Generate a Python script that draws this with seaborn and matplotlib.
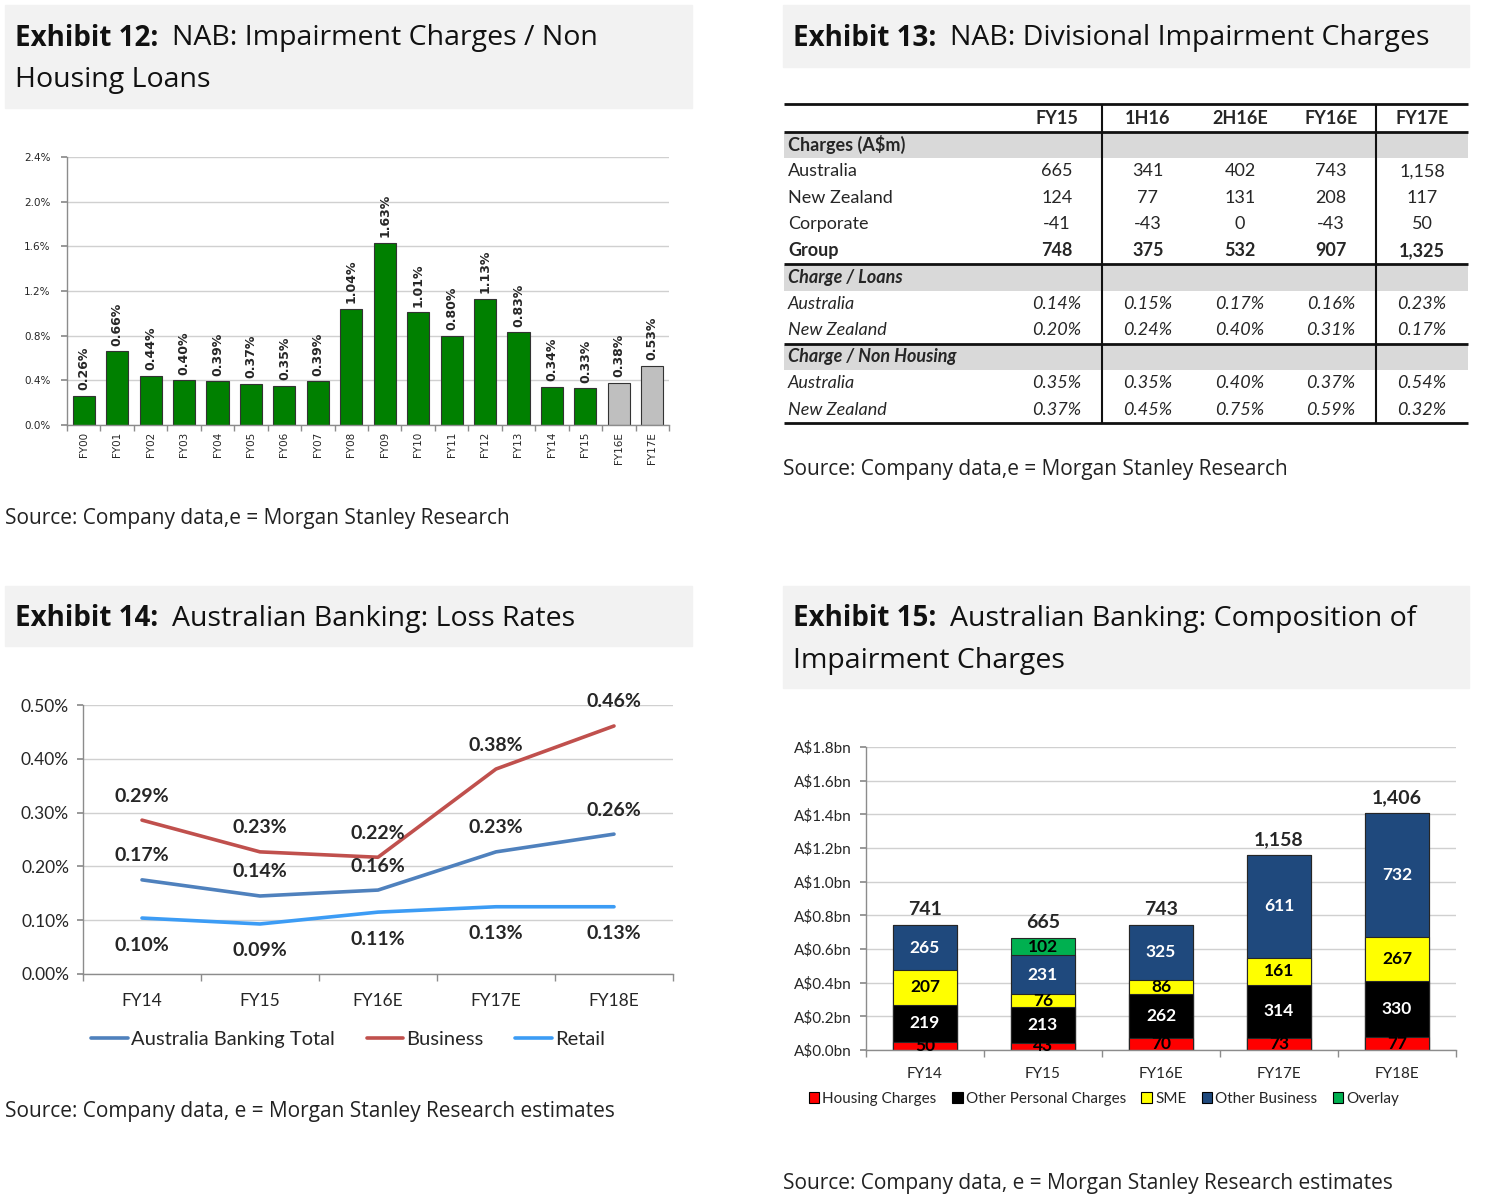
import numpy as np
import pandas as pd
import matplotlib
matplotlib.use("Agg")
import matplotlib.pyplot as plt
from matplotlib.patches import Rectangle, Patch
from matplotlib.lines import Line2D
from matplotlib.ticker import FuncFormatter
import seaborn as sns

# ---- Exhibit 12: NAB impairment charges / non housing loans (%)
nab_years = ["FY00", "FY01", "FY02", "FY03", "FY04", "FY05", "FY06", "FY07", "FY08",
             "FY09", "FY10", "FY11", "FY12", "FY13", "FY14", "FY15", "FY16E", "FY17E"]
nab_ratio = [0.26, 0.66, 0.44, 0.40, 0.39, 0.37, 0.35, 0.39, 1.04,
             1.63, 1.01, 0.80, 1.13, 0.83, 0.34, 0.33, 0.38, 0.53]
nab_estimate = [False] * 16 + [True, True]

# ---- Exhibit 13: divisional impairment charges
table_cols = ["FY15", "1H16", "2H16E", "FY16E", "FY17E"]
chg_australia = [665, 341, 402, 743, 1158]
chg_nz = [124, 77, 131, 208, 117]
chg_corporate = [-41, -43, 0, -43, 50]
chg_group = [748, 375, 532, 907, 1325]
loans_australia = [0.14, 0.15, 0.17, 0.16, 0.23]
loans_nz = [0.20, 0.24, 0.40, 0.31, 0.17]
nonhousing_australia = [0.35, 0.35, 0.40, 0.37, 0.54]
nonhousing_nz = [0.37, 0.45, 0.75, 0.59, 0.32]

# ---- Exhibit 14: Australian banking loss rates (%)
loss_years = ["FY14", "FY15", "FY16E", "FY17E", "FY18E"]
loss_total = [0.175, 0.145, 0.156, 0.227, 0.260]
loss_business = [0.286, 0.227, 0.217, 0.381, 0.461]
loss_retail = [0.104, 0.093, 0.115, 0.125, 0.125]
lbl_total = [0.17, 0.14, 0.16, 0.23, 0.26]
lbl_business = [0.29, 0.23, 0.22, 0.38, 0.46]
lbl_retail = [0.10, 0.09, 0.11, 0.13, 0.13]

# ---- Exhibit 15: composition of impairment charges (A$m)
comp_years = ["FY14", "FY15", "FY16E", "FY17E", "FY18E"]
comp_housing = [50, 43, 70, 73, 77]
comp_personal = [219, 213, 262, 314, 330]
comp_sme = [207, 76, 86, 161, 267]
comp_business = [265, 231, 325, 611, 732]
comp_overlay = [0, 102, 0, 0, 0]
comp_totals = [741, 665, 743, 1158, 1406]

W, H = 1496, 1197
sns.set_theme(style="ticks")
plt.rcParams["font.family"] = ["DejaVu Sans"]

fig = plt.figure(figsize=(W / 100, H / 100), dpi=100)
renderer = fig.canvas.get_renderer()

GRID = "#d0d0d0"
SPINE = "#8c8c8c"
TITLE_FONT = "Open Sans"
BODY_FONT = "Lato"


def px_rect(x0, y0, x1, y1):
    return [x0 / W, 1 - y1 / H, (x1 - x0) / W, (y1 - y0) / H]


def title_box(x0, y0, x1, y1, bold, lines):
    fig.add_artist(Rectangle((x0 / W, 1 - y1 / H), (x1 - x0) / W, (y1 - y0) / H,
                             transform=fig.transFigure, color="#f2f2f2", zorder=0))
    ty = y0 + 33
    t = fig.text((x0 + 10) / W, 1 - ty / H, bold, fontsize=20, fontweight="bold",
                 family=TITLE_FONT, va="center", color="#111111")
    bb = t.get_window_extent(renderer)
    fig.text((bb.x1 + 14) / W, 1 - ty / H, lines[0], fontsize=20.5,
             family=TITLE_FONT, va="center", color="#111111")
    for k, line in enumerate(lines[1:], start=1):
        fig.text((x0 + 10) / W, 1 - (ty + 42 * k) / H, line, fontsize=20.5,
                 family=TITLE_FONT, va="center", color="#111111")


def source(x, y, s):
    fig.text(x / W, 1 - y / H, s, fontsize=15, family=TITLE_FONT, va="center", color="#222222")


def style_axes(ax):
    for side in ["top", "right"]:
        ax.spines[side].set_visible(False)
    for side in ["left", "bottom"]:
        ax.spines[side].set_color(SPINE)
        ax.spines[side].set_linewidth(1)
    ax.yaxis.grid(True, color=GRID, lw=1)
    ax.set_axisbelow(True)
    ax.set_xlabel("")
    ax.set_ylabel("")


# ================= Exhibit 12 =================
title_box(5, 5, 692, 108, "Exhibit 12:", ["NAB: Impairment Charges / Non", "Housing Loans"])
ax12 = fig.add_axes(px_rect(67, 157, 669, 425))
nab_colors = ["#bfbfbf" if e else "#008000" for e in nab_estimate]
sns.barplot(x=nab_years, y=nab_ratio, hue=nab_years, palette=nab_colors, legend=False,
            width=0.66, saturation=1, edgecolor="#333333", linewidth=0.8, ax=ax12)
ax12.set_ylim(0, 2.4)
ax12.set_xlim(-0.5, len(nab_years) - 0.5)
ax12.set_yticks(np.arange(0, 2.41, 0.4))
ax12.yaxis.set_major_formatter(FuncFormatter(lambda v, p: f"{v:.1f}%"))
style_axes(ax12)
ax12.set_xticks(np.arange(-0.5, len(nab_years), 1), minor=True)
ax12.tick_params(axis="x", which="major", length=0, labelsize=7.5, rotation=90, pad=5)
ax12.tick_params(axis="x", which="minor", length=4, color=SPINE)
ax12.tick_params(axis="y", length=4, color=SPINE, labelsize=7.5, pad=8)
for i, v in enumerate(nab_ratio):
    ax12.annotate(f"{v:.2f}%", (i, v), xytext=(0, 4), textcoords="offset points",
                  rotation=90, ha="center", va="bottom", fontsize=9, fontweight="bold")
source(5, 519, "Source: Company data,e = Morgan Stanley Research")

# ================= Exhibit 13 =================
title_box(783, 5, 1469, 67, "Exhibit 13:", ["NAB: Divisional Impairment Charges"])
ax13 = fig.add_axes(px_rect(780, 95, 1472, 430))
ax13.set_xlim(780, 1472)
ax13.set_ylim(430, 95)
ax13.axis("off")
tx0, tx1 = 784, 1468
col_x = [1057, 1148, 1240, 1331, 1422]
row_h = 26.5
top = 105

rows = [
    ("band", "Charges (A$m)", None, "bold", "normal"),
    ("row", "Australia", [f"{v:,}" for v in chg_australia], "normal", "normal"),
    ("row", "New Zealand", [f"{v:,}" for v in chg_nz], "normal", "normal"),
    ("row", "Corporate", [f"{v:,}" for v in chg_corporate], "normal", "normal"),
    ("row", "Group", [f"{v:,}" for v in chg_group], "bold", "normal"),
    ("band", "Charge / Loans", None, "bold", "italic"),
    ("row", "Australia", [f"{v:.2f}%" for v in loans_australia], "normal", "italic"),
    ("row", "New Zealand", [f"{v:.2f}%" for v in loans_nz], "normal", "italic"),
    ("band", "Charge / Non Housing", None, "bold", "italic"),
    ("row", "Australia", [f"{v:.2f}%" for v in nonhousing_australia], "normal", "italic"),
    ("row", "New Zealand", [f"{v:.2f}%" for v in nonhousing_nz], "normal", "italic"),
]
for c, x in zip(table_cols, col_x):
    ax13.text(x, top + row_h / 2, c, ha="center", va="center", fontsize=13,
              fontweight="bold", family=BODY_FONT)
y = top + row_h
thick_lines = [top - 1, y]
for kind, label, vals, weight, style in rows:
    yc = y + row_h / 2
    if kind == "band":
        if y > top + row_h + 1:
            thick_lines.append(y)
        ax13.add_patch(Rectangle((tx0, y + 1), tx1 - tx0, row_h - 1, color="#d9d9d9", lw=0))
    ax13.text(tx0 + 4, yc, label, ha="left", va="center", fontsize=13, fontweight=weight,
              fontstyle=style, family=BODY_FONT)
    if vals:
        for v, x in zip(vals, col_x):
            ax13.text(x, yc, v, ha="center", va="center", fontsize=13, fontweight=weight,
                      fontstyle=style, family=BODY_FONT)
    y += row_h
thick_lines.append(y)
ax13.hlines(thick_lines, tx0, tx1, color="#111111", lw=2)
ax13.vlines([1102, 1376], top - 1, y, color="#111111", lw=1.5)
source(783, 469, "Source: Company data,e = Morgan Stanley Research")

# ================= Exhibit 14 =================
title_box(5, 586, 692, 646, "Exhibit 14:", ["Australian Banking: Loss Rates"])
ax14 = fig.add_axes(px_rect(83, 705, 673, 974))
line_specs = [
    ("Australia Banking Total", loss_total, lbl_total, "#4f81bd", 24),
    ("Business", loss_business, lbl_business, "#c0504d", 24),
    ("Retail", loss_retail, lbl_retail, "#3c9cf5", -27),
]
idx = np.arange(len(loss_years))
for name, vals, lbls, color, off in line_specs:
    sns.lineplot(x=idx, y=vals, color=color, lw=2.6, ax=ax14, sort=False, legend=False)
    for i, (v, l) in enumerate(zip(vals, lbls)):
        ax14.annotate(f"{l:.2f}%", (i, v), xytext=(0, off), textcoords="offset pixels",
                      ha="center", va="center", fontsize=14, fontweight="bold",
                      family=BODY_FONT, annotation_clip=False)
ax14.set_ylim(0, 0.5)
ax14.set_xlim(-0.5, len(loss_years) - 0.5)
ax14.set_yticks(np.arange(0, 0.51, 0.1))
ax14.yaxis.set_major_formatter(FuncFormatter(lambda v, p: f"{v:.2f}%"))
ax14.set_xticks(idx)
ax14.set_xticklabels(loss_years)
style_axes(ax14)
ax14.set_xticks(np.arange(-0.5, len(loss_years), 1), minor=True)
ax14.tick_params(axis="x", which="major", length=0, labelsize=12.5, pad=14)
ax14.tick_params(axis="x", which="minor", length=5, color=SPINE)
ax14.tick_params(axis="y", length=4, color=SPINE, labelsize=12.5, pad=6)
for lab in ax14.get_xticklabels() + ax14.get_yticklabels():
    lab.set_family(BODY_FONT)
handles14 = [Line2D([0], [0], color=c, lw=2.6) for _, _, _, c, _ in line_specs]
fig.legend(handles14, [n for n, *_ in line_specs], loc="center",
           bbox_to_anchor=(348 / W, 1 - 1039 / H), ncol=3, frameon=False,
           prop={"family": BODY_FONT, "size": 14.5}, handlelength=1.8,
           handletextpad=0.15, columnspacing=1.6)
source(5, 1112, "Source: Company data, e = Morgan Stanley Research estimates")

# ================= Exhibit 15 =================
title_box(783, 586, 1469, 688, "Exhibit 15:", ["Australian Banking: Composition of", "Impairment Charges"])
ax15 = fig.add_axes(px_rect(866, 747, 1456, 1050))
comp = pd.DataFrame({
    "year": comp_years,
    "Housing Charges": comp_housing,
    "Other Personal Charges": comp_personal,
    "SME": comp_sme,
    "Other Business": comp_business,
    "Overlay": comp_overlay,
})
layers = ["Housing Charges", "Other Personal Charges", "SME", "Other Business", "Overlay"]
layer_colors = {"Housing Charges": "#ff0000", "Other Personal Charges": "#000000",
                "SME": "#ffff00", "Other Business": "#1f497d", "Overlay": "#00b050"}
text_colors = {"Housing Charges": "#000000", "Other Personal Charges": "#ffffff",
               "SME": "#000000", "Other Business": "#ffffff", "Overlay": "#000000"}
cum = comp[layers].cumsum(axis=1)
for name in reversed(layers):
    sns.barplot(x=comp["year"], y=cum[name], color=layer_colors[name], saturation=1,
                width=0.55, edgecolor="#262626", linewidth=0.8, ax=ax15)
for name in layers:
    for i, (v, c) in enumerate(zip(comp[name], cum[name])):
        if v > 0:
            ax15.text(i, c - v / 2, f"{v}", ha="center", va="center", fontsize=12.5,
                      fontweight="bold", color=text_colors[name], family=BODY_FONT)
for i, tot in enumerate(comp_totals):
    ax15.annotate(f"{tot:,}", (i, cum[layers[-1]][i]), xytext=(0, 5), textcoords="offset points",
                  ha="center", va="bottom", fontsize=14, fontweight="bold", family=BODY_FONT)
ax15.set_ylim(0, 1800)
ax15.set_xlim(-0.5, len(comp_years) - 0.5)
ax15.set_yticks(np.arange(0, 1801, 200))
ax15.yaxis.set_major_formatter(FuncFormatter(lambda v, p: f"A${v / 1000:.1f}bn"))
style_axes(ax15)
ax15.set_xticks(np.arange(-0.5, len(comp_years), 1), minor=True)
ax15.tick_params(axis="x", which="major", length=0, labelsize=11, pad=12)
ax15.tick_params(axis="x", which="minor", length=5, color=SPINE)
ax15.tick_params(axis="y", length=4, color=SPINE, labelsize=11, pad=6)
for lab in ax15.get_xticklabels() + ax15.get_yticklabels():
    lab.set_family(BODY_FONT)
handles15 = [Patch(facecolor=layer_colors[n], edgecolor="#000000", lw=0.8) for n in layers]
fig.legend(handles15, layers, loc="center", bbox_to_anchor=(1104 / W, 1 - 1099 / H),
           ncol=5, frameon=False, prop={"family": BODY_FONT, "size": 11},
           handlelength=0.7, handleheight=0.7, handletextpad=0.2, columnspacing=1.0)
source(783, 1184, "Source: Company data, e = Morgan Stanley Research estimates")

fig.savefig("out.png", dpi=100)
